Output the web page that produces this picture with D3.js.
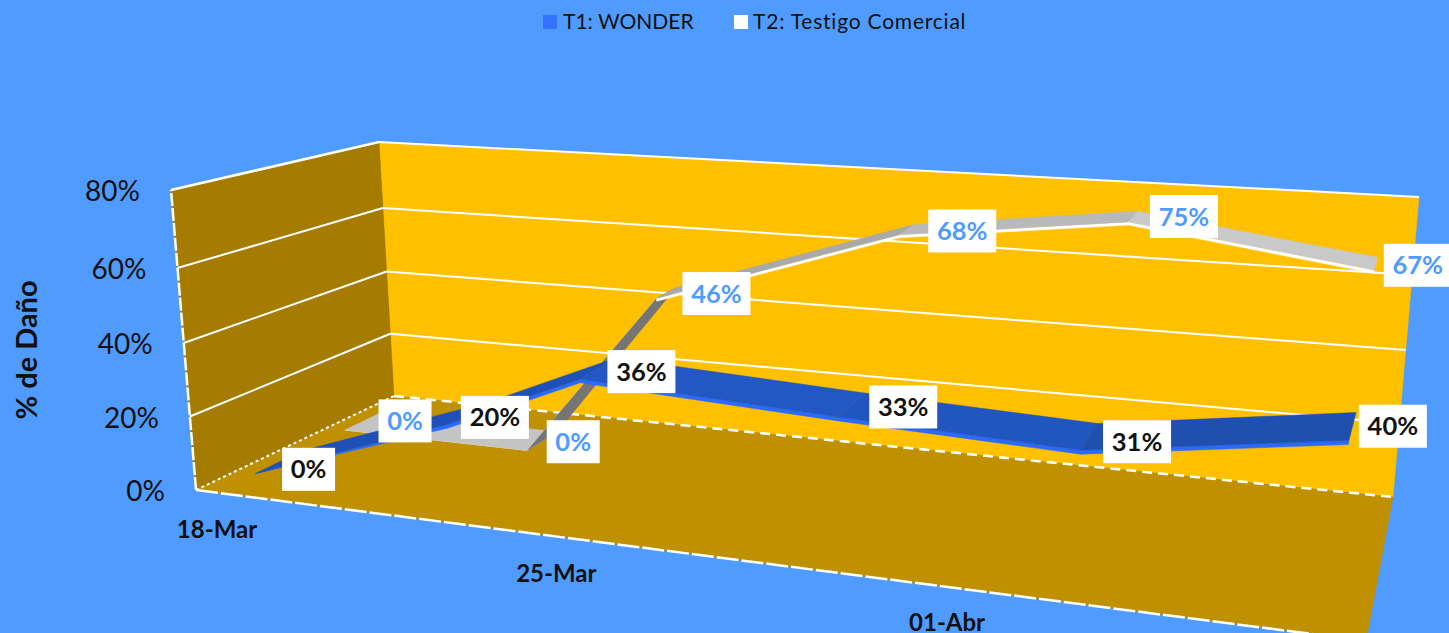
<!DOCTYPE html>
<html><head><meta charset="utf-8">
<style>html,body{margin:0;padding:0;background:#4F9BFF;overflow:hidden}svg{display:block}text{font-family:Lato,"Open Sans",sans-serif}</style>
<script src="https://cdn.jsdelivr.net/npm/d3@7/dist/d3.min.js"></script>
</head><body>
<script>
// ---------- data ----------
const dates = ["2000-03-18T10:00Z","2000-03-22T14:00Z","2000-03-25T08:00Z","2000-03-30T00:00Z","2000-04-03T00:00Z","2000-04-07T00:00Z"];
const t1Values = [0,20,36,33,31,40];
const t2Values = [0,0,46,68,75,67];
const seriesNames = ["T1: WONDER","T2: Testigo Comercial"];
const yTicks = [0,20,40,60,80];
const xTickDates = ["2000-03-18","2000-03-25","2000-04-01"];
const xTickLabels = ["18-Mar","25-Mar","01-Abr"];

// ---------- styling / layout ----------
const W=1449,H=633;
const C={bg:"#4F9BFF",back:"#FFC000",left:"#A67C00",floor:"#BF9000"};
// eight corners of the 3D box on screen [u,v,w]: u along time, v up, w into the page
const corners={
 "000":[196,490],"100":[1366,641],"001":[394,396],"101":[1393,497],
 "010":[171,190],"110":[1398,287],"011":[379,142],"111":[1419,197]
};
const uScale=d3.scaleTime().domain(["2000-03-18","2000-03-25","2000-04-01","2000-04-08"].map(d=>new Date(d))).range([0,.29,.624,1.025]);
const vScale=d3.scaleLinear().domain(yTicks).range([0,.245,.49,.74,1]);
function project(u,v,w){
  const out=[0,0];
  for(const a of [0,1])for(const b of [0,1])for(const c of [0,1]){
    const k=(a?u:1-u)*(b?v:1-v)*(c?w:1-w),p=corners[""+a+b+c];
    out[0]+=k*p[0];out[1]+=k*p[1];
  }
  return out;
}
const P=(date,val,w)=>project(uScale(date),vScale(Math.max(0,val)),w);

const svg=d3.select("body").append("svg").attr("width",W).attr("height",H).attr("viewBox",`0 0 ${W} ${H}`);
svg.append("rect").attr("width",W).attr("height",H).attr("fill",C.bg);
const poly=(pts,fill,g=svg)=>g.append("path").attr("d",d3.line()(pts)+"Z").attr("fill",fill).attr("stroke",fill).attr("stroke-width",.5);
const line=(pts,dash,sw=2)=>svg.append("path").attr("d",d3.line()(pts)).attr("fill","none").attr("stroke","#fff").attr("stroke-width",sw).attr("stroke-dasharray",dash||null);

// walls and floor
poly([project(0,0,1),project(1,0,1),project(1,1,1),project(0,1,1)],C.back);
poly([project(0,0,0),project(0,0,1),project(0,1,1),project(0,1,0)],C.left);
poly([project(0,0,0),project(1,0,0),project(1,0,1),project(0,0,1)],C.floor);

// gridlines
yTicks.filter(t=>t>0).forEach(t=>{
  const v=vScale(t);
  line([project(0,v,0),project(0,v,1)],null,t===80?2.5:2);
  line([project(0,v,1),project(1,v,1)],null,2);
});
line([project(0,0,0),project(0,1,0)],"13 2",2.5);
line([project(0,0,0),project(1,0,0)],"22 3",2.5);
line([project(0,0,0),project(0,0,1)],"3 3",2);
line([project(0,0,1),project(1,0,1)],"10 6",2.5);

// ribbons: a top face between two depths plus a thin front strip
const parsed=dates.map(d=>new Date(d));
function ribbon(values,w0,w1,drop,stripColor,shades){
  for(let i=0;i<values.length-1;i++){
    const a=parsed[i],b=parsed[i+1],va=values[i],vb=values[i+1];
    if(drop>0) poly([P(a,va,w0[i]),P(b,vb,w0[i+1]),P(b,vb-drop,w0[i+1]),P(a,va-drop,w0[i])],stripColor);
    poly([P(a,va,w0[i]),P(a,va,w1[i]),P(b,vb,w1[i+1]),P(b,vb,w0[i+1])],shades[i]);
  }
}
const t2Shades=["#C4C4C4","#757575","#A9A9A9","#B9B9B9","#C9C9C9"];
const t1Shades=["#1F50B8","#1F50B8","#2257C4","#2155C0","#1F50B0"];
const t2Front=[.66,.66,.72,.74,.75,.75], t2Back=[.84,.84,.85,.87,.88,.88];
const t1Front=[.2,.2,.2,.2,.2,.2], t1Back=[.44,.44,.44,.44,.44,.44];
ribbon(t2Values,t2Front,t2Back,.8,"#FFFFFF",t2Shades);
ribbon(t1Values,t1Front,t1Back,1.0,"#2A6BFF",t1Shades);

// y axis labels
yTicks.forEach(t=>{
  const p=project(0,vScale(t),0);
  svg.append("text").attr("x",p[0]-31).attr("y",p[1]+11).attr("text-anchor","end")
    .attr("font-size",28).attr("fill","#111").text(t+"%");
});
svg.append("text").attr("transform","translate(37,350) rotate(-90)").attr("text-anchor","middle")
  .attr("font-size",29).attr("font-weight",700).attr("fill","#111").text("% de Daño");

// x axis labels
xTickDates.forEach((d,i)=>{
  const p=project(uScale(new Date(d)),0,0);
  svg.append("text").attr("x",p[0]+21).attr("y",p[1]+47+(i===2?0:1)).attr("text-anchor","middle")
    .attr("font-size",24).attr("font-weight",700).attr("fill","#111").text(xTickLabels[i]);
});

// data labels
function labels(values,wm,color,nudge){
  values.forEach((val,i)=>{
    const p=P(parsed[i],val,wm),cx=p[0]+nudge[i][0],cy=p[1]+nudge[i][1];
    const s=val+"%",bw=s.length===3?68:53,bh=43;
    svg.append("rect").attr("x",cx-bw/2).attr("y",cy-bh/2).attr("width",bw).attr("height",bh).attr("fill","#fff");
    svg.append("text").attr("x",cx).attr("y",cy+9).attr("text-anchor","middle")
      .attr("font-size",25.5).attr("font-weight",700).attr("fill",color).text(s);
  });
}
labels(t2Values,.84,C.bg,[[25,8],[16,10],[42,5],[52,4],[49,2],[41,4]]);
labels(t1Values,.33,"#111",[[28,8],[25,5],[42,4],[51,3],[47,6],[40,1]]);

// legend
const legend=[[543,563,"#3272FF",0],[734,753,"#fff",.78]];
legend.forEach((l,i)=>{
  svg.append("rect").attr("x",l[0]).attr("y",15).attr("width",14).attr("height",14).attr("fill",l[2]);
  svg.append("text").attr("x",l[1]).attr("y",29).attr("font-size",21).attr("letter-spacing",l[3]).attr("fill","#111").text(seriesNames[i]);
});
</script>
</body></html>
